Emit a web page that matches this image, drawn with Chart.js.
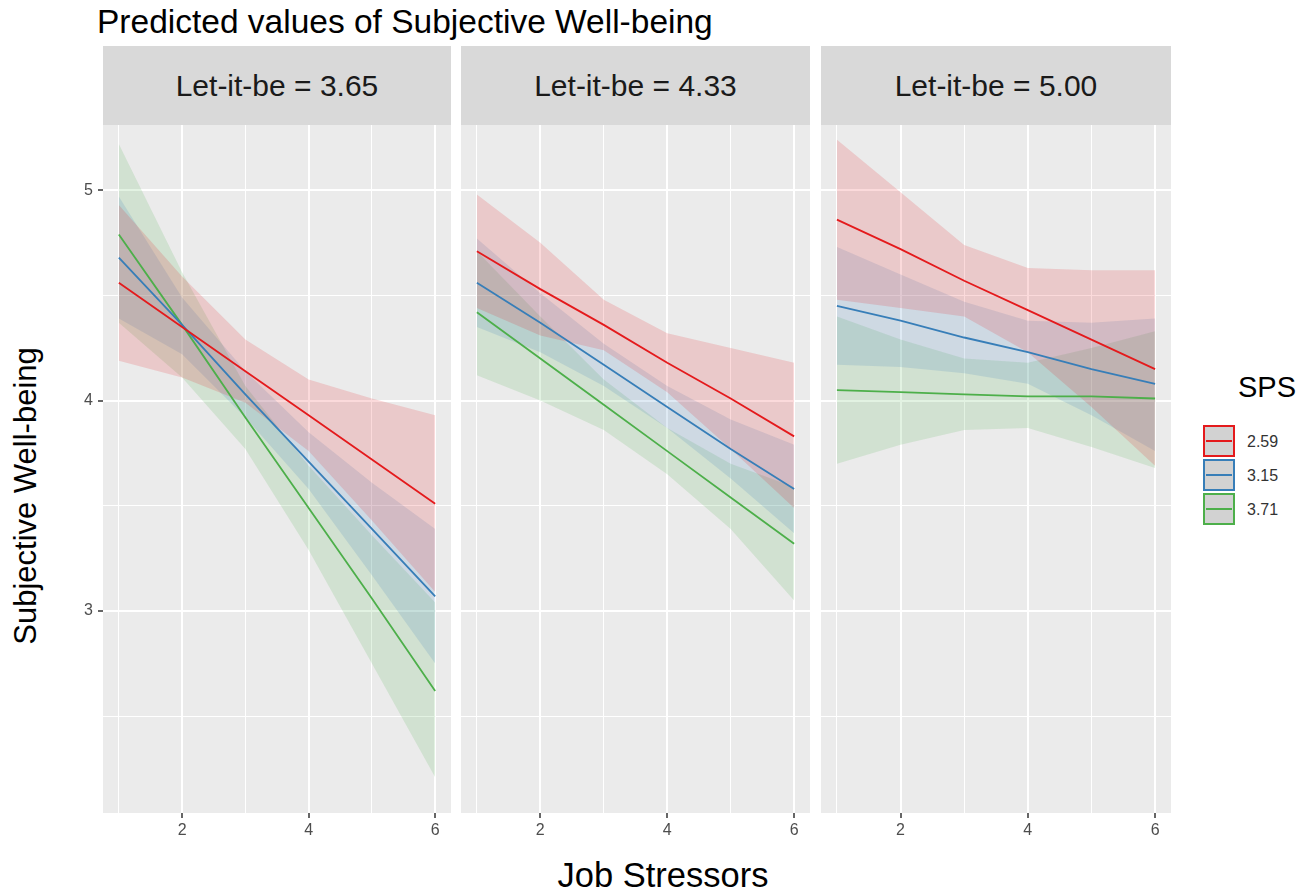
<!DOCTYPE html>
<html>
<head>
<meta charset="utf-8">
<script src="https://cdn.jsdelivr.net/npm/chart.js@4.4.1/dist/chart.umd.min.js"></script>
<style>
  * { margin: 0; padding: 0; box-sizing: border-box; }
  body {
    width: 1316px; height: 891px; background: #fff; position: relative; overflow: hidden;
    font-family: "Liberation Sans", Arial, Helvetica, sans-serif; color: #000;
  }
  .abs { position: absolute; white-space: nowrap; }
  .title { left: 97px; top: 5px; font-size: 33.5px; line-height: 1; }
  .strip {
    top: 46px; height: 79px; background: #D9D9D9; color: #1A1A1A; font-size: 30px;
    display: flex; align-items: center; justify-content: center;
  }
  canvas { position: absolute; top: 125px; }
  .ytitle {
    left: -174px; top: 479px; width: 400px; height: 34px; line-height: 34px;
    font-size: 31px; text-align: center; transform: rotate(-90deg);
  }
  .xtitle { left: 463px; top: 858px; width: 400px; font-size: 34.5px; line-height: 1; text-align: center; }
  .legtitle { left: 1238px; top: 373px; font-size: 29px; line-height: 1; }
  .key { left: 1203px; width: 32px; height: 32px; border: 2px solid; background: #D2D2D2; }
  .key i { position: absolute; left: 1px; top: 13px; width: 26px; height: 2px; }
  .keylab { left: 1247px; font-size: 16px; line-height: 1; color: #333; }
</style>
</head>
<body>
  <div class="abs title">Predicted values of Subjective Well-being</div>
  <div id="strips"></div>
  <canvas id="p0" width="391" height="715" style="left:60px"></canvas>
  <canvas id="p1" width="349" height="715" style="left:461px"></canvas>
  <canvas id="p2" width="350" height="715" style="left:821px"></canvas>
  <div class="abs ytitle">Subjective Well-being</div>
  <div class="abs xtitle">Job Stressors</div>
  <div class="abs legtitle">SPS</div>
  <div id="legend"></div>

<script>
// x values and axis ticks
const jobStressors = [1, 2, 3, 4, 5, 6];
const yGridValues = [2.5, 3, 3.5, 4, 4.5, 5];
const letItBe = ["3.65", "4.33", "5.00"];
const spsLevels = ["2.59", "3.15", "3.71"];
const spsColors = ["#E41A1C", "#377EB8", "#4DAF4A"];
const spsBands = ["rgba(228,26,28,0.16)", "rgba(55,126,184,0.16)", "rgba(77,175,74,0.16)"];

// Let-it-be = 3.65
const p1Sps259 = [4.56, 4.35, 4.14, 3.93, 3.72, 3.51];
const p1Sps259Hi = [4.93, 4.59, 4.29, 4.10, 4.01, 3.93];
const p1Sps259Lo = [4.19, 4.11, 3.99, 3.76, 3.43, 3.09];
const p1Sps315 = [4.68, 4.36, 4.03, 3.71, 3.39, 3.07];
const p1Sps315Hi = [4.97, 4.49, 4.14, 3.85, 3.61, 3.39];
const p1Sps315Lo = [4.39, 4.22, 3.92, 3.58, 3.17, 2.75];
const p1Sps371 = [4.79, 4.36, 3.92, 3.49, 3.06, 2.62];
const p1Sps371Hi = [5.22, 4.61, 4.07, 3.69, 3.36, 3.04];
const p1Sps371Lo = [4.37, 4.11, 3.77, 3.29, 2.75, 2.21];

// Let-it-be = 4.33
const p2Sps259 = [4.71, 4.53, 4.36, 4.18, 4.01, 3.83];
const p2Sps259Hi = [4.98, 4.75, 4.48, 4.32, 4.25, 4.18];
const p2Sps259Lo = [4.44, 4.31, 4.24, 4.04, 3.77, 3.49];
const p2Sps315 = [4.56, 4.37, 4.17, 3.97, 3.77, 3.58];
const p2Sps315Hi = [4.77, 4.51, 4.27, 4.07, 3.91, 3.79];
const p2Sps315Lo = [4.35, 4.23, 4.07, 3.87, 3.63, 3.37];
const p2Sps371 = [4.42, 4.20, 3.98, 3.76, 3.54, 3.32];
const p2Sps371Hi = [4.71, 4.40, 4.10, 3.87, 3.70, 3.59];
const p2Sps371Lo = [4.12, 4.00, 3.86, 3.65, 3.39, 3.05];

// Let-it-be = 5.00
const p3Sps259 = [4.86, 4.72, 4.57, 4.43, 4.29, 4.15];
const p3Sps259Hi = [5.24, 4.99, 4.74, 4.63, 4.62, 4.62];
const p3Sps259Lo = [4.48, 4.44, 4.40, 4.23, 3.97, 3.69];
const p3Sps315 = [4.45, 4.38, 4.30, 4.23, 4.15, 4.08];
const p3Sps315Hi = [4.73, 4.60, 4.47, 4.38, 4.37, 4.39];
const p3Sps315Lo = [4.17, 4.16, 4.13, 4.08, 3.93, 3.76];
const p3Sps371 = [4.05, 4.04, 4.03, 4.02, 4.02, 4.01];
const p3Sps371Hi = [4.40, 4.29, 4.20, 4.18, 4.25, 4.33];
const p3Sps371Lo = [3.70, 3.79, 3.86, 3.87, 3.78, 3.68];

const panels = [
  { mid: [p1Sps259, p1Sps315, p1Sps371], hi: [p1Sps259Hi, p1Sps315Hi, p1Sps371Hi], lo: [p1Sps259Lo, p1Sps315Lo, p1Sps371Lo] },
  { mid: [p2Sps259, p2Sps315, p2Sps371], hi: [p2Sps259Hi, p2Sps315Hi, p2Sps371Hi], lo: [p2Sps259Lo, p2Sps315Lo, p2Sps371Lo] },
  { mid: [p3Sps259, p3Sps315, p3Sps371], hi: [p3Sps259Hi, p3Sps315Hi, p3Sps371Hi], lo: [p3Sps259Lo, p3Sps315Lo, p3Sps371Lo] },
];

// panel plot areas in page pixels (left, right)
const panelBox = [[103, 451], [461, 810], [821, 1171]];
const FONT = '"Liberation Sans", Arial, Helvetica, sans-serif';
Chart.defaults.font.family = FONT;

// strips and legend (plain html text)
const strips = document.getElementById("strips");
panelBox.forEach(([l, r], i) => {
  const d = document.createElement("div");
  d.className = "abs strip";
  d.style.left = l + "px";
  d.style.width = (r - l) + "px";
  d.textContent = "Let-it-be = " + letItBe[i];
  strips.appendChild(d);
});
const legend = document.getElementById("legend");
spsLevels.forEach((lab, i) => {
  const top = 425 + i * 34;
  const k = document.createElement("div");
  k.className = "abs key";
  k.style.top = top + "px";
  k.style.borderColor = spsColors[i];
  k.innerHTML = '<i style="background:' + spsColors[i] + '"></i>';
  legend.appendChild(k);
  const t = document.createElement("div");
  t.className = "abs keylab";
  t.style.top = (top + 8.5) + "px";
  t.textContent = lab;
  legend.appendChild(t);
});

const panelBg = {
  id: "panelBg",
  beforeDraw(chart) {
    const { ctx, chartArea: a } = chart;
    ctx.save();
    ctx.fillStyle = "#EBEBEB";
    ctx.fillRect(a.left, a.top, a.right - a.left, a.bottom - a.top);
    ctx.restore();
  }
};

// no label padding, so the plot area fills the canvas exactly
const noPad = s => { s.paddingTop = 0; s.paddingBottom = 0; s.paddingLeft = 0; s.paddingRight = 0; };

const pts = arr => jobStressors.map((x, i) => ({ x, y: arr[i] }));

function buildConfig(panel, showY) {
  const datasets = [];
  // lines first so they are drawn on top of the ribbons
  panel.mid.forEach((arr, i) => datasets.push({
    data: pts(arr), borderColor: spsColors[i], borderWidth: 1.8,
    pointRadius: 0, fill: false, tension: 0
  }));
  panel.hi.forEach((arr, i) => {
    datasets.push({
      data: pts(arr), borderColor: "rgba(0,0,0,0)", borderWidth: 0, pointRadius: 0,
      backgroundColor: spsBands[i], fill: "+1", tension: 0
    });
    datasets.push({
      data: pts(panel.lo[i]), borderColor: "rgba(0,0,0,0)", borderWidth: 0, pointRadius: 0,
      fill: false, tension: 0
    });
  });

  return {
    type: "line",
    data: { datasets },
    options: {
      responsive: false,
      animation: false,
      devicePixelRatio: 1,
      events: [],
      layout: { padding: 0, autoPadding: false },
      plugins: { legend: { display: false }, tooltip: { enabled: false } },
      scales: {
        x: {
          type: "linear", min: 0.75, max: 6.25,
          afterBuildTicks: s => { s.ticks = jobStressors.map(v => ({ value: v })); },
          afterFit: s => { s.height = 27; noPad(s); },
          border: { display: false },
          grid: {
            color: "#FFFFFF",
            lineWidth: c => (c.tick && c.tick.value % 2 === 0 ? 2 : 1),
            tickColor: c => (c.tick && c.tick.value % 2 === 0 ? "#333333" : "rgba(0,0,0,0)"),
            tickLength: 5, tickWidth: 1.5
          },
          ticks: {
            autoSkip: false, maxRotation: 0, padding: 3, color: "#4D4D4D",
            font: { size: 16 },
            callback: v => (v % 2 === 0 ? String(v) : "")
          }
        },
        y: {
          type: "linear", min: 2.04, max: 5.31,
          afterBuildTicks: s => { s.ticks = yGridValues.map(v => ({ value: v })); },
          afterFit: s => { s.width = showY ? 43 : 0; noPad(s); },
          border: { display: false },
          grid: {
            color: "#FFFFFF",
            drawTicks: showY,
            lineWidth: c => (c.tick && Number.isInteger(c.tick.value) ? 2 : 1),
            tickColor: c => (c.tick && Number.isInteger(c.tick.value) ? "#333333" : "rgba(0,0,0,0)"),
            tickLength: 5, tickWidth: 1.5
          },
          ticks: {
            display: showY, autoSkip: false, padding: 5, color: "#4D4D4D",
            font: { size: 16 },
            callback: v => (Number.isInteger(v) ? String(v) : "")
          }
        }
      }
    },
    plugins: [panelBg]
  };
}

panels.forEach((p, i) => {
  new Chart(document.getElementById("p" + i), buildConfig(p, i === 0));
});
</script>
</body>
</html>
